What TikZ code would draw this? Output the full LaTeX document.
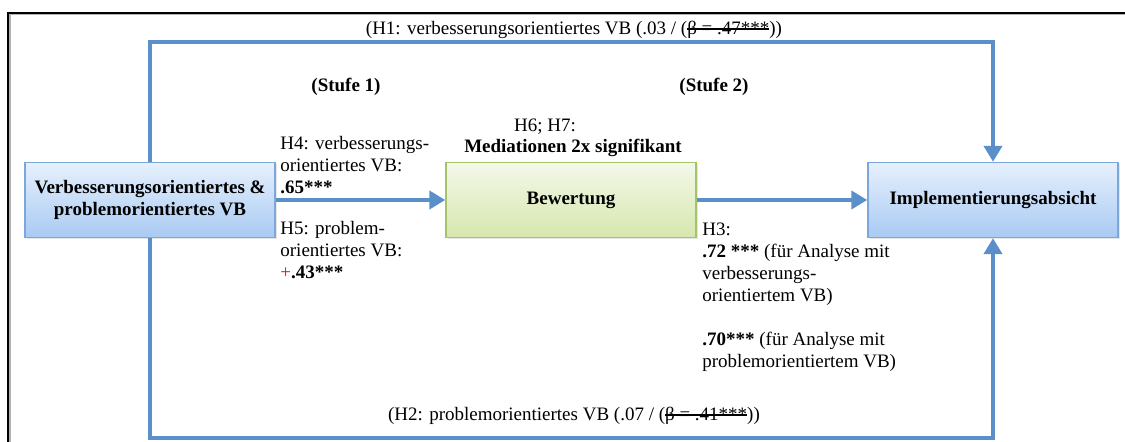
\documentclass[tikz,border=0pt]{standalone}
\usepackage{fontspec}
\setmainfont{Liberation Serif}
\usetikzlibrary{arrows.meta,positioning,shadows}

\definecolor{pfeilblau}{HTML}{5B8FC9}
\definecolor{randblau}{HTML}{7BA7DA}
\definecolor{hellblau}{HTML}{E6F0FC}
\definecolor{dunkelblau}{HTML}{A9CAF3}
\definecolor{randgruen}{HTML}{A5C46A}
\definecolor{hellgruen}{HTML}{F4F8EA}
\definecolor{dunkelgruen}{HTML}{D6E7AE}
\definecolor{plusrot}{HTML}{FF0000}
\newcommand{\durchstr}[1]{\setbox0\hbox{#1}\rlap{\rule[0.27em]{\wd0}{0.6pt}}\box0}

\begin{document}
\begin{tikzpicture}[x=0.5pt,y=-0.5pt,
  font=\fontsize{9.5}{11}\selectfont,
  kasten/.style={draw=randblau,line width=0.7pt,top color=hellblau,bottom color=dunkelblau,
    minimum width=125pt,minimum height=37.5pt,align=center,
    font=\fontsize{9.5}{11}\selectfont\bfseries,
    drop shadow={opacity=0.2,shadow xshift=0.8pt,shadow yshift=-0.8pt}},
  gruenkasten/.style={kasten,draw=randgruen,top color=hellgruen,bottom color=dunkelgruen},
  pfeil/.style={draw=pfeilblau,line width=2pt,-{Triangle[length=8pt,width=9pt]}},
  beschr/.style={align=left,anchor=north west,inner sep=0pt}]
\useasboundingbox (0,0) rectangle (1125,442);
\draw[gray!60,line width=1pt] (9.5,442) -- (9.5,14.5) -- (1125,14.5);
\draw[black,line width=0.9pt] (8,442) -- (8,13) -- (1125,13);

\node[kasten] (vb) at (150,200) {Verbesserungsorientiertes \&\\problemorientiertes VB};
\node[gruenkasten] (bew) at (571,200) {Bewertung};
\node[kasten] (impl) at (993,200) {Implementierungsabsicht};
\path (150,42) coordinate(oben)
      (150,438) coordinate(unten);

\draw[pfeil] (vb) -- (bew);
\draw[pfeil] (bew) -- (impl);
\draw[pfeil,line join=miter] (vb.north) -- (oben) -| (impl.north);
\draw[pfeil,line join=miter] (vb.south) -- (unten) -| (impl.south);

\node (h1) at (574,30) {(H1: verbesserungsorientiertes VB (.03 / (\durchstr{β = .47***}))};
\node (h2) at (574,416) {(H2: problemorientiertes VB (.07 / (\durchstr{β = .41***}))};
\node[font=\fontsize{9.5}{11}\selectfont\bfseries] (stufe1) at (346,87) {(Stufe 1)};
\node[font=\fontsize{9.5}{11}\selectfont\bfseries] (stufe2) at (714,87) {(Stufe 2)};
\node (h67) at (545,127) {H6; H7:};
\node[font=\fontsize{9.5}{11}\selectfont\bfseries] (med) at (573,148) {Mediationen 2x signifikant};
\node[beschr] (h4) at (280,136) {H4: verbesserungs-\\orientiertes VB:\\\textbf{.65***}};
\node[beschr] (h5) at (280,221) {H5: problem-\\orientiertes VB:\\\textcolor{plusrot}{+}\textbf{.43***}};
\node[beschr] (h3) at (702,223) {H3:\\\textbf{.72 ***} (für Analyse mit\\verbesserungs-\\orientiertem VB)\\[11pt]\textbf{.70***} (für Analyse mit\\problemorientiertem VB)};
\end{tikzpicture}
\end{document}
